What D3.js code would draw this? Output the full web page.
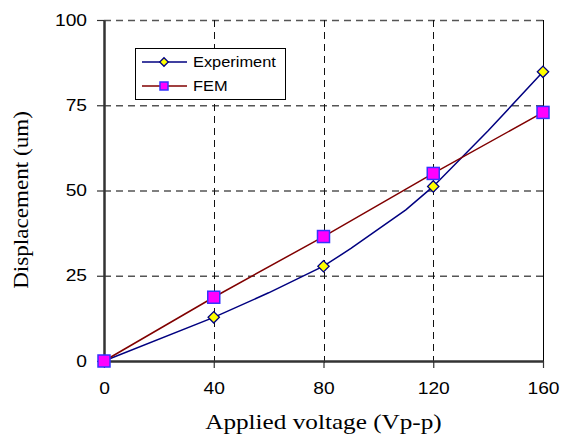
<!DOCTYPE html>
<html>
<head>
<meta charset="utf-8">
<script src="https://cdn.jsdelivr.net/npm/d3@7"></script>
<style>
  body { margin: 0; background: #fff; }
  svg { display: block; }
</style>
</head>
<body>
<svg id="chart" width="561" height="435"></svg>
<script>
// data
const voltages = [0, 40, 80, 120, 160];
const experiment = [0, 12.8, 27.8, 51.2, 84.8];
const fem = [0, 18.7, 36.5, 55.0, 72.9];
// experiment curve also passes through unmarked points
const expCurveX = [0, 40, 60, 80, 90, 110, 120, 140, 160];
const expCurveY = [0, 12.8, 20, 27.8, 33, 44.3, 51.2, 67.5, 84.8];
const xTicks = [0, 40, 80, 120, 160];
const yTicks = [0, 25, 50, 75, 100];

const svg = d3.select('#chart');
const margin = { left: 104, top: 20, right: 18, bottom: 74 };
const width = 561 - margin.left - margin.right;
const height = 435 - margin.top - margin.bottom;

// text in the picture is a bit wider than the fonts we have
const stretch = 1.2;
function widen(sel, k) {
  sel.each(function () {
    const len = this.getComputedTextLength();
    d3.select(this).attr('textLength', len * (k || stretch)).attr('lengthAdjust', 'spacingAndGlyphs');
  });
}

const x = d3.scaleLinear().domain([0, 160]).range([0, width]);
const y = d3.scaleLinear().domain([0, 100]).range([height, 0]);

const g = svg.append('g').attr('transform', `translate(${margin.left},${margin.top})`);

// gridlines
g.selectAll('.hgrid')
  .data(yTicks.filter((d) => d > 0))
  .enter()
  .append('line')
  .attr('x1', 0)
  .attr('x2', width)
  .attr('y1', (d) => y(d) + 0.5)
  .attr('y2', (d) => y(d) + 0.5)
  .style('stroke', '#555')
  .style('stroke-width', 1.3)
  .style('stroke-dasharray', '7,5');

g.selectAll('.vgrid')
  .data(xTicks.filter((d) => d > 0 && d < 160))
  .enter()
  .append('line')
  .attr('x1', (d) => Math.round(x(d)) + 0.5)
  .attr('x2', (d) => Math.round(x(d)) + 0.5)
  .attr('y1', 0)
  .attr('y2', height + 7)
  .style('stroke', '#111')
  .style('stroke-width', 1)
  .style('stroke-dasharray', '7,5');

// right border
g.append('line')
  .attr('x1', width + 0.5)
  .attr('x2', width + 0.5)
  .attr('y1', 0)
  .attr('y2', height + 7)
  .style('stroke', '#000')
  .style('stroke-width', 1);

// axes
const yAxis = d3.axisLeft(y).tickValues(yTicks).tickSize(7).tickSizeOuter(0).tickPadding(10);
const xAxis = d3.axisBottom(x).tickValues(xTicks).tickSize(7).tickSizeOuter(0).tickPadding(15);

const ya = g.append('g').call(yAxis);
const xa = g.append('g').attr('transform', `translate(0,${height})`).call(xAxis);

[ya, xa].forEach((a) => {
  a.select('.domain').style('stroke', '#333').style('stroke-width', 2.5);
  a.selectAll('.tick line').style('stroke', '#333').style('stroke-width', 1.2);
  a.selectAll('.tick text')
    .style('font-family', 'Liberation Sans, Arial, sans-serif')
    .style('font-size', '16px')
    .style('fill', '#000')
    .call(widen);
});
xa.selectAll('.tick line').style('stroke-dasharray', '7,5');

// lines
const line = d3.line().x((d) => x(d[0])).y((d) => y(d[1]));
g.append('path')
  .datum(d3.zip(expCurveX, expCurveY))
  .attr('d', line)
  .style('fill', 'none')
  .style('stroke', '#000080')
  .style('stroke-width', 1.5);

g.append('path')
  .datum(d3.zip(voltages, fem))
  .attr('d', line)
  .style('fill', 'none')
  .style('stroke', '#800000')
  .style('stroke-width', 1.5);

function drawDiamond(sel, cx, cy, s) {
  sel.append('path')
    .attr('d', d3.symbol().type(d3.symbolSquare).size(s * s)())
    .attr('transform', `translate(${cx},${cy}) rotate(45)`)
    .style('fill', '#ffff00')
    .style('stroke', '#000080')
    .style('stroke-width', 1.3);
}
function drawSquare(sel, cx, cy, s) {
  sel.append('rect')
    .attr('x', cx - s / 2)
    .attr('y', cy - s / 2)
    .attr('width', s)
    .attr('height', s)
    .style('fill', '#ff00ff')
    .style('stroke', '#3333ff')
    .style('stroke-width', 1.5);
}

voltages.forEach((v, i) => drawDiamond(g, x(v), y(experiment[i]), 8));
voltages.forEach((v, i) => drawSquare(g, x(v), y(fem[i]), 12));

// legend
const lg = svg.append('g').attr('transform', 'translate(135,48)');
lg.append('rect')
  .attr('x', 0.5)
  .attr('y', 0.5)
  .attr('width', 150)
  .attr('height', 51)
  .style('fill', '#fff')
  .style('stroke', '#000')
  .style('stroke-width', 1);

const legendItems = [
  { name: 'Experiment', color: '#000080', marker: drawDiamond, size: 6 },
  { name: 'FEM', color: '#800000', marker: drawSquare, size: 8 },
];
legendItems.forEach((it, i) => {
  const cy = 14 + i * 24;
  lg.append('line')
    .attr('x1', 7)
    .attr('x2', 52)
    .attr('y1', cy)
    .attr('y2', cy)
    .style('stroke', it.color)
    .style('stroke-width', 1.5);
  it.marker(lg, 29, cy, it.size);
  lg.append('text')
    .attr('x', 58)
    .attr('y', cy)
    .attr('dy', '0.35em')
    .style('font-family', 'Liberation Sans, Arial, sans-serif')
    .style('font-size', '14.5px')
    .text(it.name)
    .call(widen, 1.13);
});

// axis titles
svg.append('text')
  .attr('x', margin.left + width / 2)
  .attr('y', 429)
  .attr('text-anchor', 'middle')
  .style('font-family', 'Liberation Serif, Times New Roman, serif')
  .style('font-size', '21px')
  .text('Applied voltage (Vp-p)')
  .call(widen, 1.2);

svg.append('text')
  .attr('transform', 'translate(28,200) rotate(-90)')
  .attr('text-anchor', 'middle')
  .style('font-family', 'Liberation Serif, Times New Roman, serif')
  .style('font-size', '21px')
  .text('Displacement (um)')
  .call(widen, 1.1);
</script>
</body>
</html>
